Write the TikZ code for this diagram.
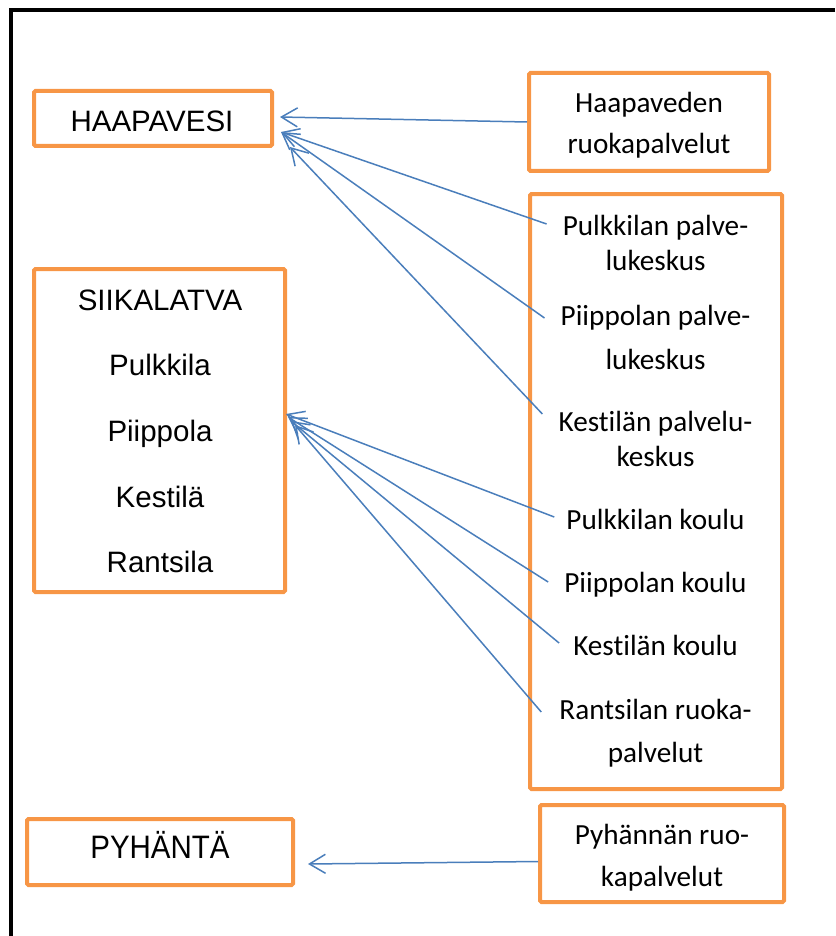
\documentclass[tikz,border=0pt]{standalone}
\usepackage{fontspec}
\setmainfont{Liberation Sans}
\newfontfamily\calibri[Ligatures=NoCommon]{Carlito}
\usetikzlibrary{arrows.meta}
\definecolor{boxorange}{HTML}{F79646}
\definecolor{arrblue}{HTML}{4A7EBB}
\begin{document}
\begin{tikzpicture}[x=1pt,y=-1pt,
  obox/.style={draw=boxorange,line width=4pt,rounded corners=1.5pt,inner sep=0pt,fill=none},
  ltext/.style={anchor=base,inner sep=0pt,font=\fontsize{29.5}{34}\selectfont},
  rtext/.style={anchor=base,inner xsep=10pt,inner ysep=0pt,text height=20pt,text depth=6pt,font=\calibri\fontsize{29.2}{34}\selectfont},
  arr/.style={draw=arrblue,line width=1.5pt,-{Straight Barb[length=16pt,width=19pt]}}]
\useasboundingbox (0,0) rectangle (835,936);
% frame
\draw[line width=4.5pt] (835,10) -- (11,10) -- (11,936);
% left boxes
\node[obox,minimum width=238pt,minimum height=55pt] (hv) at (153,118.5) {};
\node[ltext] (hvt) at (152,132) {HAAPAVESI};
\node[obox,minimum width=251pt,minimum height=323pt] (sk) at (159.5,430.5) {};
\node[ltext] (sk1) at (160,310) {SIIKALATVA};
\node[ltext] (sk2) at (160,375) {Pulkkila};
\node[ltext] (sk3) at (160,441) {Piippola};
\node[ltext] (sk4) at (160,507) {Kestilä};
\node[ltext] (sk5) at (160,572) {Rantsila};
\node[obox,minimum width=266pt,minimum height=66pt] (py) at (160,852) {};
\node[ltext] (pyt) at (160,858) {\scalebox{1}[1.1]{PYHÄNTÄ}};
% right boxes
\node[obox,minimum width=240pt,minimum height=98pt] (hd) at (649,122) {};
\node[rtext] (hd1) at (649,113) {Haapaveden};
\node[rtext] (hd2) at (649,154) {ruokapalvelut};
\node[obox,minimum width=252pt,minimum height=595pt] (big) at (656,491.5) {};
\node[rtext] (b1) at (655.5,235) {Pulkkilan palve-};
\node[rtext] (b1b) at (655.5,270) {lukeskus};
\node[rtext] (b2) at (655.5,325) {Piippolan palve-};
\node[rtext] (b2b) at (655.5,369) {lukeskus};
\node[rtext] (b3) at (655.5,431) {Kestilän palvelu-};
\node[rtext] (b3b) at (655.5,466) {keskus};
\node[rtext] (b4) at (655.5,529) {Pulkkilan koulu};
\node[rtext] (b5) at (655.5,592) {Piippolan koulu};
\node[rtext] (b6) at (655.5,655) {Kestilän koulu};
\node[rtext] (b7) at (655.5,719) {Rantsilan ruoka-};
\node[rtext] (b7b) at (655.5,762) {palvelut};
\node[obox,minimum width=244pt,minimum height=97pt] (pr) at (662,853.5) {};
\node[rtext] (pr1) at (662,844) {Pyhännän ruo-};
\node[rtext] (pr2) at (662,886) {kapalvelut};
% arrow tips
\coordinate (hvA) at (280,117);
\coordinate (hvB) at (281,132);
\coordinate (hvC) at (290,147);
\coordinate (skA) at (286,414);
\coordinate (skB) at (288,417);
\coordinate (skC) at (291,421);
\coordinate (skD) at (295,425);
\coordinate (pyA) at (308,864);
% connectors
\draw[arr] (hd.west) -- (hvA);
\draw[arr] ([xshift=-6pt,yshift=4pt]b1.west) -- (hvB);
\draw[arr] ([xshift=-6pt]b2.west) -- (hvB);
\draw[arr] ([xshift=-6pt,yshift=10pt]b3.west) -- (hvC);
\draw[arr] ([xshift=-2pt,yshift=5pt]b4.west) -- (skA);
\draw[arr] ([xshift=-6pt,yshift=3pt]b5.west) -- (skB);
\draw[arr] ([xshift=-4pt,yshift=5pt]b6.west) -- (skC);
\draw[arr] ([xshift=-8pt]b7.west) -- (skD);
\draw[arr] ([yshift=-8pt]pr.west) -- (pyA);
\end{tikzpicture}
\end{document}
